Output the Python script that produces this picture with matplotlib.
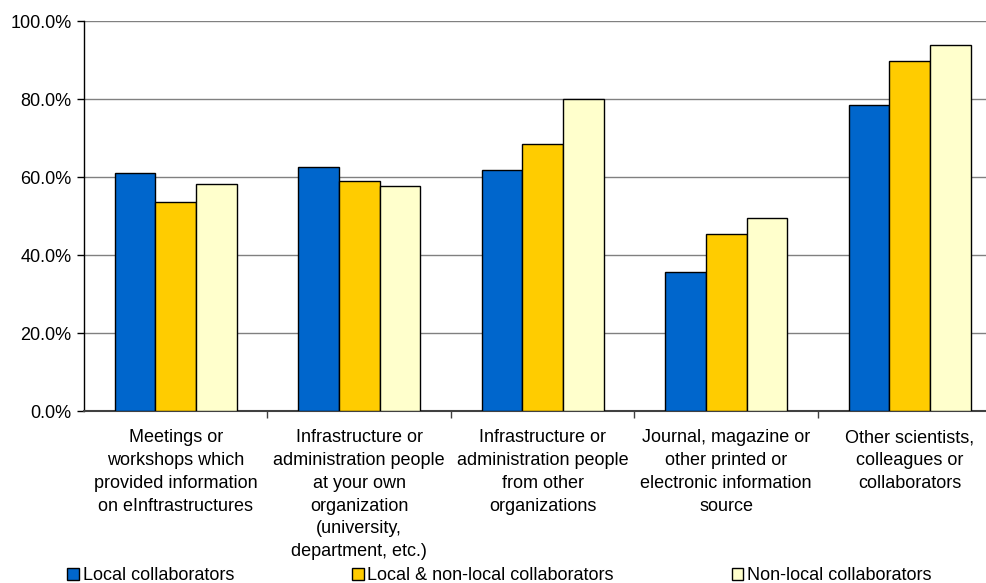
import matplotlib
matplotlib.use("Agg")
import matplotlib.pyplot as plt
from matplotlib.ticker import FuncFormatter, FixedLocator
import numpy as np

plt.rcParams["font.family"] = ["Liberation Sans", "DejaVu Sans"]

categories = [
    "Meetings or\nworkshops which\nprovided information\non eInftrastructures",
    "Infrastructure or\nadministration people\nat your own\norganization\n(university,\ndepartment, etc.)",
    "Infrastructure or\nadministration people\nfrom other\norganizations",
    "Journal, magazine or\nother printed or\nelectronic information\nsource",
    "Other scientists,\ncolleagues or\ncollaborators",
]
series_names = [
    "Local collaborators",
    "Local & non-local collaborators",
    "Non-local collaborators",
]
local_vals = [61.1, 62.6, 61.8, 35.7, 78.5]
mixed_vals = [53.6, 59.0, 68.5, 45.5, 89.8]
nonlocal_vals = [58.3, 57.8, 80.0, 49.4, 93.8]
yticks = [0, 20, 40, 60, 80, 100]

colors = ["#0066CC", "#FFCC00", "#FFFFCC"]
FS = 13

fig = plt.figure(figsize=(9.87, 5.83), dpi=100)
ax = fig.add_axes([84 / 987, 172 / 583, 917.5 / 987, 390 / 583])

x = np.arange(len(categories))
w = 0.222
handles = []
for i, (vals, c, name) in enumerate(zip([local_vals, mixed_vals, nonlocal_vals], colors, series_names)):
    b = ax.bar(x + (i - 1) * w, vals, width=w, color=c, edgecolor="black",
               linewidth=1.0, label=name, zorder=3)
    handles.append(b)

ax.set_xlim(-0.5, len(categories) - 0.5)
ax.set_ylim(0, 100)
ax.set_yticks(yticks)
ax.yaxis.set_major_formatter(FuncFormatter(lambda v, p: f"{v:.1f}%"))
ax.grid(axis="y", color="#808080", linewidth=1.0, zorder=0)
ax.tick_params(axis="y", direction="out", length=5, width=1, color="black",
               labelsize=FS, pad=4)

ax.set_xticks(x)
ax.set_xticklabels(categories, fontsize=FS, linespacing=1.45, va="top")
ax.tick_params(axis="x", which="major", length=0, pad=13)
ax.xaxis.set_minor_locator(FixedLocator(np.arange(0.5, len(categories) - 0.5, 1.0)))
ax.tick_params(axis="x", which="minor", direction="out", length=5, width=1, color="#404040")

for s in ["top", "right"]:
    ax.spines[s].set_visible(False)
ax.spines["left"].set_color("black")
ax.spines["left"].set_linewidth(1.0)
ax.spines["bottom"].set_color("#404040")
ax.spines["bottom"].set_linewidth(1.5)

fig.legend(handles=handles, labels=series_names, loc="center left",
           bbox_to_anchor=(67.5 / 987, 1 - 576 / 583), ncol=3, frameon=False,
           fontsize=FS, handlelength=0.65, handleheight=0.65, handletextpad=0.2,
           columnspacing=6.52, borderpad=0, borderaxespad=0)

fig.savefig("out.png", dpi=100)
